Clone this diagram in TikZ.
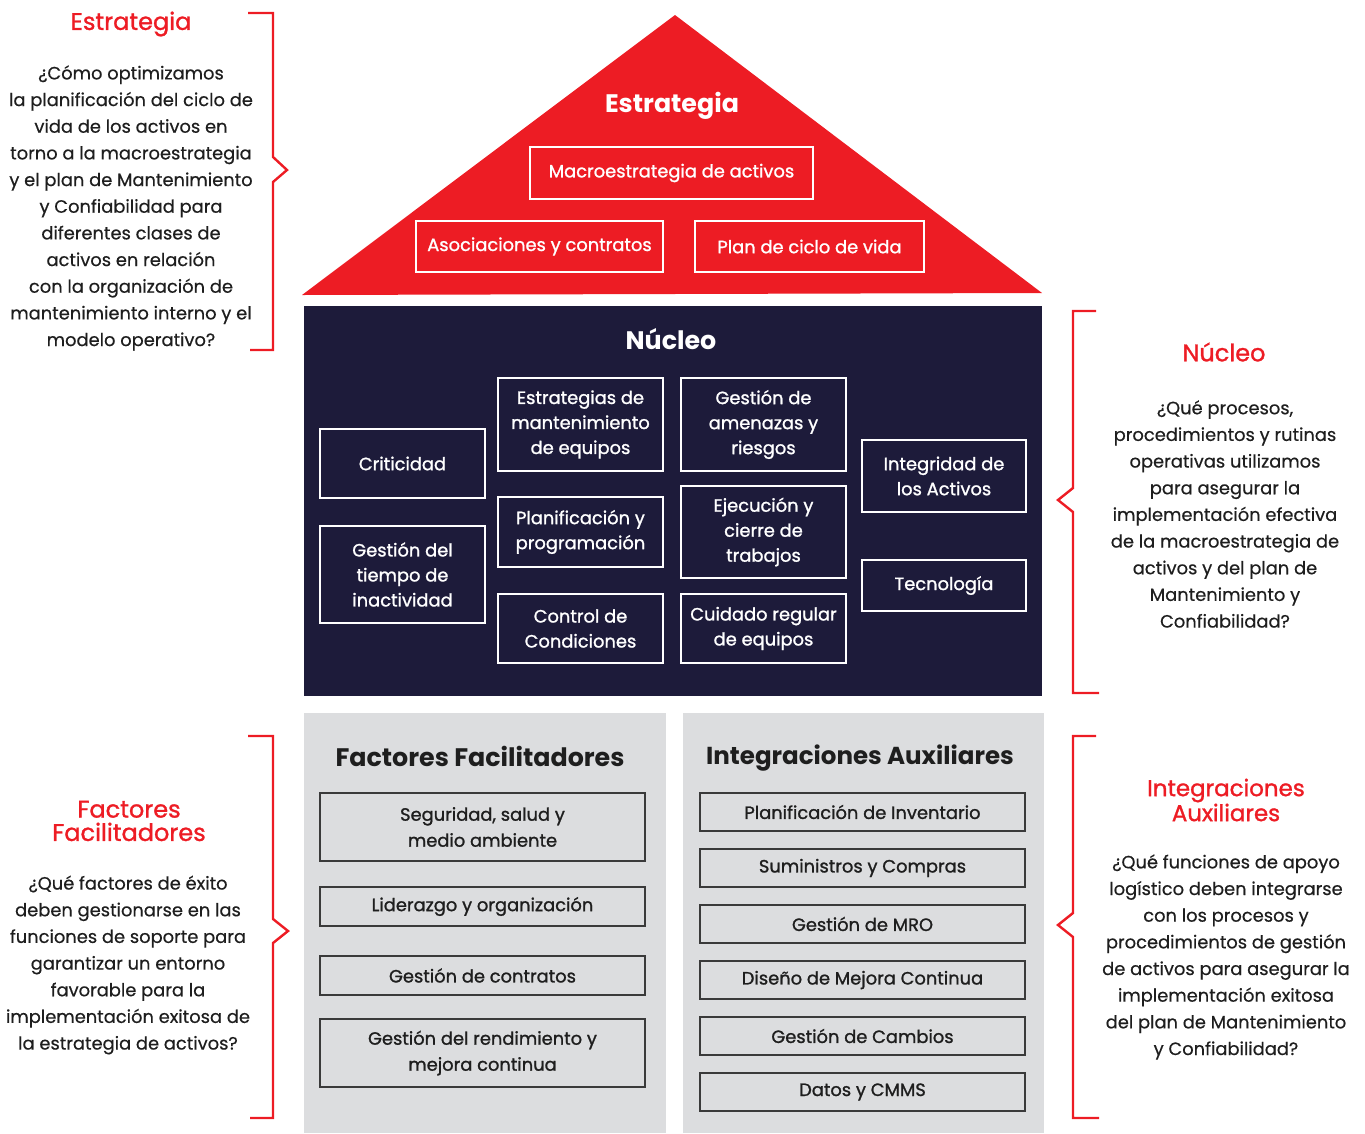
\documentclass[tikz,border=0pt]{standalone}
\usepackage{fontspec}
\setmainfont{Poppins}
\newfontfamily\mediumface{Poppins}[FakeBold=1.2]
\newfontfamily\bodyface{Poppins}[FakeBold=0.5]
\begin{document}
\begin{tikzpicture}[x=0.75pt,y=-0.75pt,
  every node/.style={inner sep=0pt, outer sep=0pt, align=center},
  wbox/.style={draw=white, line width=1.1pt, text=white, font=\mediumface\fontsize{13.4}{18.75}\selectfont},
  gbox/.style={draw=boxline, line width=1.1pt, text=darktext, font=\mediumface\fontsize{13.4}{19.5}\selectfont},
  redtitle/.style={text=brandred, font=\mediumface\fontsize{18}{17.5}\selectfont},
  bodytext/.style={text=darktext, font=\bodyface\fontsize{13.4}{20}\selectfont},
  bracket/.style={draw=brandred, line width=1.8pt, line join=miter},
  hometitle/.style={font=\bfseries\fontsize{19}{20}\selectfont}
]
\definecolor{brandred}{HTML}{ED1C24}
\definecolor{navy}{HTML}{1D1B3A}
\definecolor{panelgray}{HTML}{DCDDDF}
\definecolor{boxline}{HTML}{3A3A3A}
\definecolor{darktext}{HTML}{1E1E1E}

% box given by its corners: style, name, x1, y1, x2, y2, text
\newcommand\pbox[7]{%
  \pgfmathsetmacro\bw{(#5-#3)*0.75}%
  \pgfmathsetmacro\bh{(#6-#4)*0.75}%
  \node[#1, minimum width=\bw pt, minimum height=\bh pt] (#2) at ({(#3+#5)/2},{(#4+#6)/2}) {#7};}

\useasboundingbox (0,0) rectangle (1365,1133);

% ---- roof: strategy ----
\fill[brandred] (302,295) -- (675,15) -- (1042,293) -- cycle;
\node[hometitle, text=white] (roofTitle) at (672,106) {Estrategia};
\pbox{wbox}{macro}{530}{147}{813}{199}{Macroestrategia de activos}
\pbox{wbox}{asoc}{416}{221}{663}{272}{Asociaciones y contratos}
\pbox{wbox}{plan}{695}{221}{924}{272}{Plan de ciclo de vida}

% ---- core ----
\fill[navy] (304,306) rectangle (1042,696);
\node[hometitle, text=white] (coreTitle) at (671,339) {Núcleo};
\pbox{wbox}{crit}{320}{429}{485}{498}{Criticidad}
\pbox{wbox}{tiempo}{320}{526}{485}{623}{Gestión del\\tiempo de\\inactividad}
\pbox{wbox}{estrmant}{498}{378}{663}{471}{Estrategias de\\mantenimiento\\de equipos}
\pbox{wbox}{planif}{498}{497}{663}{567}{Planificación y\\programación}
\pbox{wbox}{control}{498}{594}{663}{663}{Control de\\Condiciones}
\pbox{wbox}{amenazas}{681}{378}{846}{471}{Gestión de\\amenazas y\\riesgos}
\pbox{wbox}{ejec}{681}{486}{846}{578}{Ejecución y\\cierre de\\trabajos}
\pbox{wbox}{cuidado}{681}{594}{846}{663}{Cuidado regular\\de equipos}
\pbox{wbox}{integ}{862}{440}{1026}{512}{Integridad de\\los Activos}
\pbox{wbox}{tecno}{862}{560}{1026}{611}{Tecnología}

% ---- pillars ----
\fill[panelgray] (304,713) rectangle (666,1133);
\fill[panelgray] (683,713) rectangle (1044,1133);
\node[hometitle, text=darktext] (facTitle) at (480,756) {Factores Facilitadores};
\node[hometitle, text=darktext, font=\bfseries\fontsize{18.4}{20}\selectfont] (intTitle) at (860,758) {Integraciones Auxiliares};

\pbox{gbox}{segur}{320}{793}{645}{861}{Seguridad, salud y\\medio ambiente}
\pbox{gbox}{lider}{320}{887}{645}{926}{Liderazgo y organización}
\pbox{gbox}{contr}{320}{956}{645}{995}{Gestión de contratos}
\pbox{gbox}{rend}{320}{1019}{645}{1087}{Gestión del rendimiento y\\mejora continua}

\pbox{gbox}{invent}{700}{793}{1025}{831}{Planificación de Inventario}
\pbox{gbox}{sumin}{700}{849}{1025}{887}{Suministros y Compras}
\pbox{gbox}{mro}{700}{905}{1025}{943}{Gestión de MRO}
\pbox{gbox}{diseno}{700}{961}{1025}{999}{Diseño de Mejora Continua}
\pbox{gbox}{cambios}{700}{1017}{1025}{1055}{Gestión de Cambios}
\pbox{gbox}{datos}{700}{1073}{1025}{1111}{Datos y CMMS}

% ---- side brackets ----
\draw[bracket] (248,13) -- (273,13) -- (273,157) -- (287,170) -- (273,182) -- (273,350) -- (250,350);
\draw[bracket] (248,736) -- (273,736) -- (273,919) -- (288,931) -- (273,943) -- (273,1118) -- (250,1118);
\draw[bracket] (1096,311) -- (1073,311) -- (1073,488) -- (1058,500) -- (1073,512) -- (1073,693) -- (1099,693);
\draw[bracket] (1096,736) -- (1073,736) -- (1073,913) -- (1058,925) -- (1073,937) -- (1073,1118) -- (1099,1118);

% ---- side explanations ----
\node[redtitle] (tEstr) at (131,24) {Estrategia};
\node[bodytext] (qEstr) at (131,208) {¿Cómo optimizamos\\la planificación del ciclo de\\vida de los activos en\\torno a la macroestrategia\\y el plan de Mantenimiento\\y Confiabilidad para\\diferentes clases de\\activos en relación\\con la organización de\\mantenimiento interno y el\\modelo operativo?};

\node[redtitle] (tNuc) at (1224,352) {Núcleo};
\node[bodytext] (qNuc) at (1225,514) {¿Qué procesos,\\procedimientos y rutinas\\operativas utilizamos\\para asegurar la\\implementación efectiva\\de la macroestrategia de\\activos y del plan de\\Mantenimiento y\\Confiabilidad?};

\node[redtitle] (tFac) at (129,821) {Factores\\Facilitadores};
\node[bodytext] (qFac) at (128,965) {¿Qué factores de éxito\\deben gestionarse en las\\funciones de soporte para\\garantizar un entorno\\favorable para la\\implementación exitosa de\\la estrategia de activos?};

\node[redtitle, font=\mediumface\fontsize{17.2}{17.5}\selectfont] (tInt) at (1226,800) {Integraciones\\Auxiliares};
\node[bodytext] (qInt) at (1226,957) {¿Qué funciones de apoyo\\logístico deben integrarse\\con los procesos y\\procedimientos de gestión\\de activos para asegurar la\\implementación exitosa\\del plan de Mantenimiento\\y Confiabilidad?};
\end{tikzpicture}
\end{document}
